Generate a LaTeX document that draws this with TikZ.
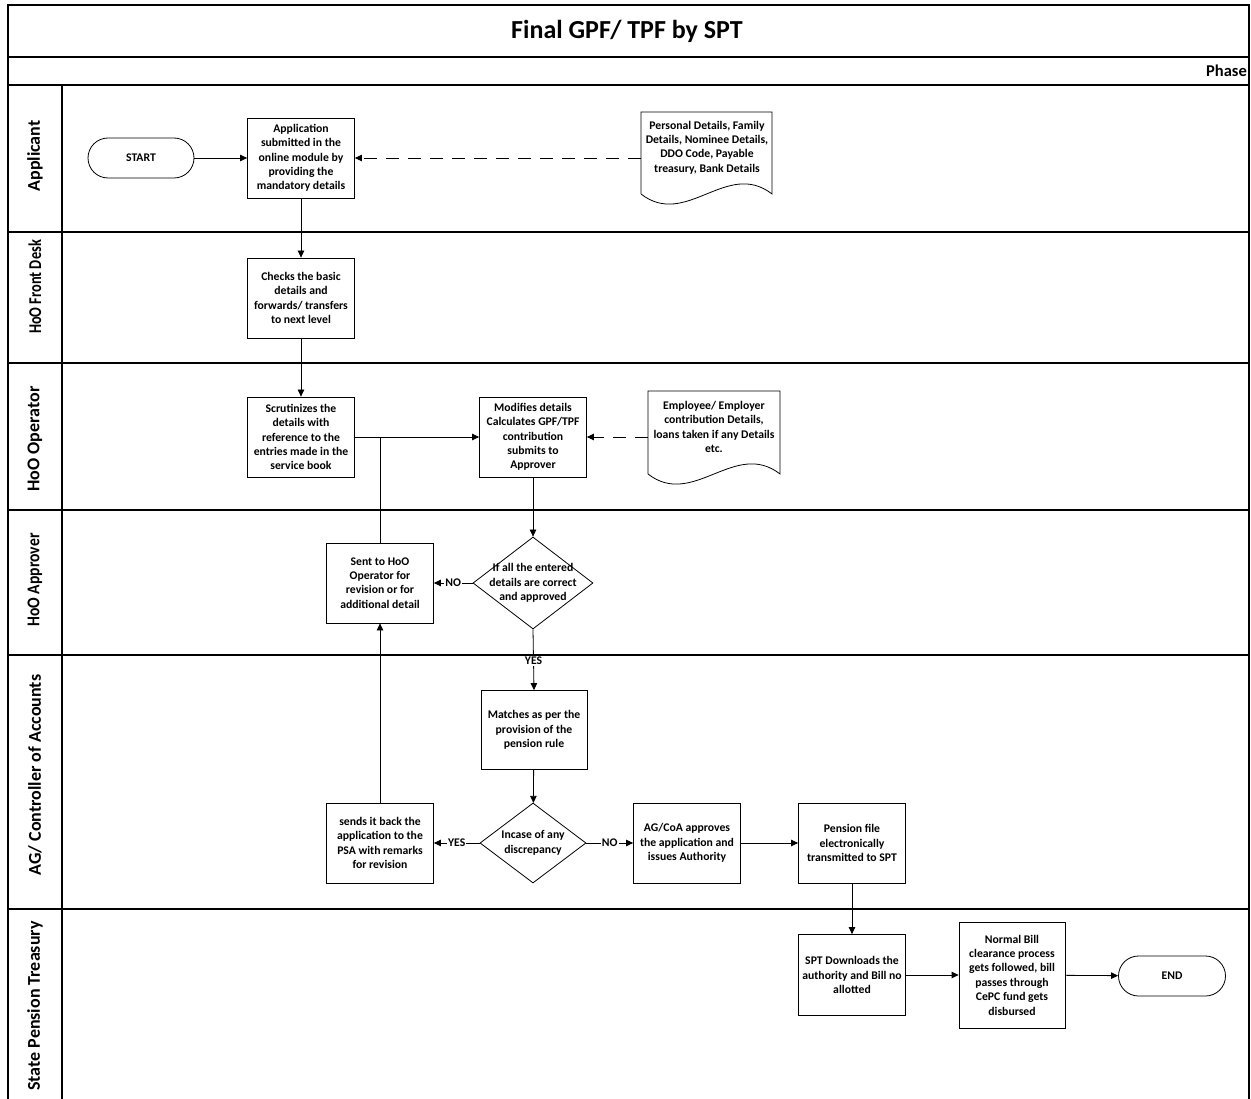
\documentclass[tikz,border=0pt]{standalone}
\usepackage{fontspec}
\setmainfont{Carlito}
\usetikzlibrary{arrows.meta,shapes.geometric}
\begin{document}
\begin{tikzpicture}[x=1pt,y=-1pt,
  txt/.style={font=\fontsize{11.7}{14.4}\selectfont\bfseries, align=center},
  proc/.style={draw, line width=0.8pt, rectangle, minimum width=107pt, minimum height=80pt, inner sep=0pt, txt},
  term/.style={draw, line width=0.8pt, rectangle, rounded corners=20pt, minimum width=106pt, minimum height=40pt, txt},
  dia/.style={draw, line width=0.8pt, diamond, inner sep=0pt},
  arr/.style={line width=0.8pt, -{Triangle[length=7pt,width=6.5pt]}},
  ln/.style={line width=0.8pt},
  dsh/.style={arr, dash pattern=on 13pt off 9pt},
  lbl/.style={txt, fill=white, inner sep=1pt},
  lane/.style={font=\fontsize{18}{20}\selectfont\bfseries, rotate=90},
  frame/.style={line width=1.1pt}
]
\useasboundingbox (0,0) rectangle (1251,1099);
% frame and lanes
\draw[frame] (8,1099) -- (8,5) -- (1249,5) -- (1249,1099);
\draw[frame] (8,57) -- (1249,57);
\draw[frame] (8,85) -- (1249,85);
\foreach \yy in {232,363,510,655,909} \draw[frame] (8,\yy) -- (1249,\yy);
\draw[frame] (62,85) -- (62,1099);
\node[font=\fontsize{26}{29}\selectfont\bfseries] (title) at (627,31) {Final GPF/ TPF by SPT};
\node[font=\fontsize{16.5}{18}\selectfont\bfseries, anchor=east, inner sep=0pt] (phase) at (1247,71) {Phase};
\node[lane] (l1) at (35,156) {Applicant};
\node[lane, xscale=0.8] (l2) at (35,287) {HoO Front Desk};
\node[lane] (l3) at (35,439) {HoO Operator};
\node[lane, xscale=0.87] (l4) at (35,580) {HoO Approver};
\node[lane] (l5) at (35,775) {AG/ Controller of Accounts};
\node[lane] (l6) at (35,1006) {State Pension Treasury};
% nodes
\node[term] (start) at (141,158) {START};
\node[proc] (app) at (301,158) {Application\\submitted in the\\online module by\\providing the\\mandatory details};
\node[txt] (doc1) at (707,147.5) {Personal Details, Family\\Details, Nominee Details,\\DDO Code, Payable\\treasury, Bank Details};
\draw[ln] (641,194) -- (641,112) -- (772,112) -- (772,194) .. controls (727,159) and (686,229) .. (641,194);
\coordinate (doc1in) at (641,158);
\node[proc] (chk) at (301,298) {Checks the basic\\details and\\forwards/ transfers\\to next level};
\node[proc] (scr) at (301,437) {Scrutinizes the\\details with\\reference to the\\entries made in the\\service book};
\node[proc] (mod) at (533,437) {Modifies details\\Calculates GPF/TPF\\contribution\\submits to\\Approver};
\node[txt] (doc2) at (714,427) {Employee/ Employer\\contribution Details,\\loans taken if any Details\\etc.};
\draw[ln] (648,474) -- (648,391) -- (780,391) -- (780,474) .. controls (735,439) and (693,509) .. (648,474);
\coordinate (doc2in) at (648,437);
\node[proc] (sent) at (380,583) {Sent to HoO\\Operator for\\revision or for\\additional detail};
\node[dia, minimum width=120pt, minimum height=92pt] (d1) at (533,583) {};
\node[txt] (d1t) at (533,583) {If all the entered\\details are correct\\and approved};
\node[proc, minimum width=106pt, minimum height=79pt] (mat) at (534,730) {Matches as per the\\provision of the\\pension rule};
\node[dia, minimum width=106pt, minimum height=80pt] (d2) at (533,843) {};
\node[txt] (d2t) at (533,843) {Incase of any\\discrepancy};
\node[proc] (sb) at (380,843) {sends it back the\\application to the\\PSA with remarks\\for revision};
\node[proc] (ag) at (687,843) {AG/CoA approves\\the application and\\issues Authority};
\node[proc] (pf) at (852,843) {Pension file\\electronically\\transmitted to SPT};
\node[proc, minimum height=81pt] (spt) at (852,975) {SPT Downloads the\\authority and Bill no\\allotted};
\node[proc, minimum width=106pt, minimum height=106pt] (nb) at (1012,975) {Normal Bill\\clearance process\\gets followed, bill\\passes through\\CePC fund gets\\disbursed};
\node[term, minimum width=107pt] (fin) at (1172,976) {END};
% connectors
\draw[arr] (start) -- (app);
\draw[dsh] (doc1in) -- (app.east |- doc1in);
\draw[arr] (app) -- (chk);
\draw[arr] (chk) -- (scr);
\draw[arr] (scr) -- (mod);
\draw[dsh] (doc2in) -- (mod.east |- doc2in);
\draw[arr] (mod) -- (d1);
\draw[arr] (d1) -- node[lbl] (no1) {NO} (sent);
\draw[ln] (sent.north) -- (sent.north |- scr.east);
\draw[arr] (d1.south) -- node[lbl, pos=0.52] (yes1) {YES} (mat.north);
\draw[arr] (mat) -- (d2);
\draw[arr] (d2) -- node[lbl] (yes2) {YES} (sb);
\draw[arr] (sb) -- (sent);
\draw[arr] (d2) -- node[lbl] (no2) {NO} (ag);
\draw[arr] (ag) -- (pf);
\draw[arr] (pf) -- (spt);
\draw[arr] (spt) -- (nb);
\draw[arr] (nb) -- (fin);
\end{tikzpicture}
\end{document}
